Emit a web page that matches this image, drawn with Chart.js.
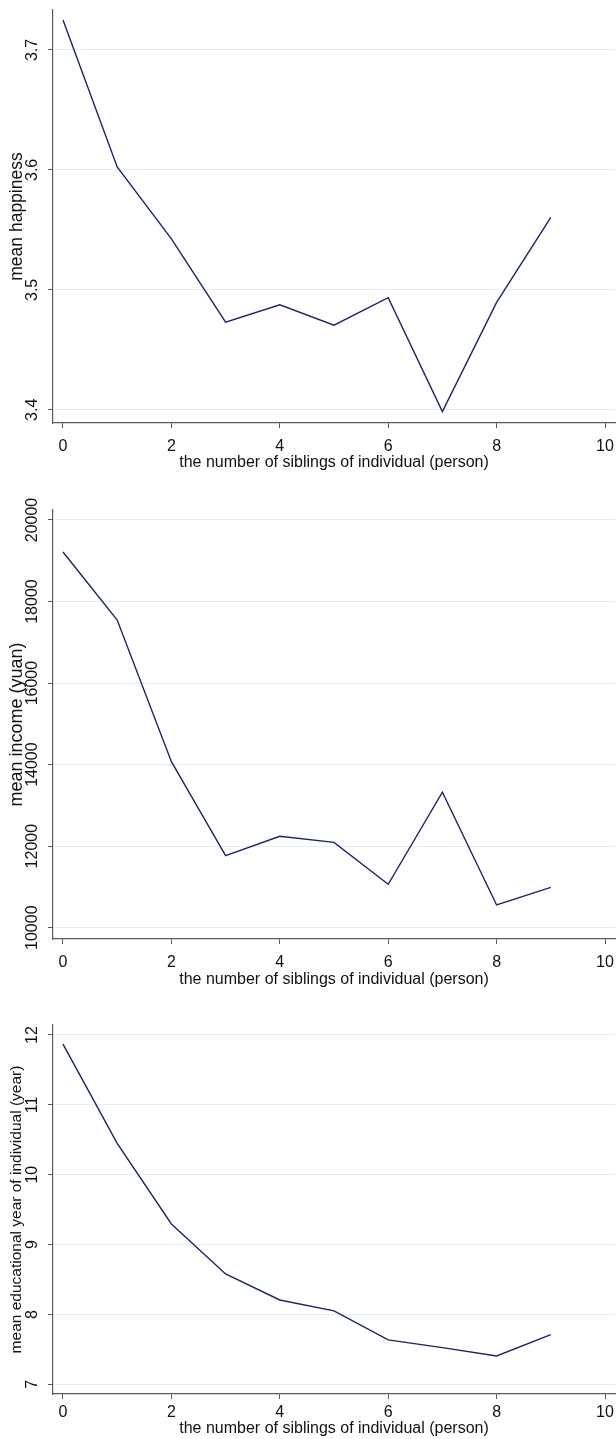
<!DOCTYPE html>
<html>
<head>
<meta charset="utf-8">
<script src="https://cdn.jsdelivr.net/npm/chart.js@4.4.1/dist/chart.umd.min.js"></script>
<style>
  body { margin: 0; background: #fff; }
  .panel { position: absolute; left: 0; width: 616px; }
</style>
</head>
<body>
<div class="panel" style="top:0px;height:480px"><canvas id="happinessChart"></canvas></div>
<div class="panel" style="top:480px;height:515px"><canvas id="incomeChart"></canvas></div>
<div class="panel" style="top:995px;height:444px"><canvas id="eduChart"></canvas></div>
<script>
// number of siblings (x)
const siblings = [0, 1, 2, 3, 4, 5, 6, 7, 8, 9];
const xTicks = [0, 2, 4, 6, 8, 10];

// mean happiness
const happiness = [3.725, 3.6025, 3.5425, 3.473, 3.4875, 3.4705, 3.4935, 3.3985, 3.4895, 3.5605];
const happinessTicks = [3.4, 3.5, 3.6, 3.7];

// mean income (yuan)
const income = [19215, 17547, 14072, 11766, 12241, 12094, 11064, 13323, 10557, 10990];
const incomeTicks = [10000, 12000, 14000, 16000, 18000, 20000];

// mean educational year
const eduYears = [11.87, 10.45, 9.295, 8.58, 8.207, 8.05, 7.635, 7.525, 7.405, 7.71];
const eduTicks = [7, 8, 9, 10, 11, 12];

const FONT = 'Liberation Sans, Arial, Helvetica, sans-serif';
const axisColor = '#5a5a5a';

// y tick labels in the picture are turned 90 degrees, draw them here
const rotatedYLabels = {
    id: 'rotatedYLabels',
    afterDraw(chart) {
        const ctx = chart.ctx;
        const scale = chart.scales.y;
        ctx.save();
        ctx.font = '16px ' + FONT;
        ctx.fillStyle = '#111';
        ctx.textAlign = 'center';
        ctx.textBaseline = 'middle';
        scale.ticks.forEach(function (t) {
            const y = scale.getPixelForValue(t.value);
            ctx.save();
            ctx.translate(chart.chartArea.left - 20, y);
            ctx.rotate(-Math.PI / 2);
            ctx.fillText(String(t.value), 0, 0);
            ctx.restore();
        });
        ctx.restore();
    }
};

function makePanel(id, values, yTicks, yMin, yMax, yTitle, yTitleSize, top, xHeight, tickPad, titlePad) {
    const ctx = document.getElementById(id).getContext('2d');
    return new Chart(ctx, {
        type: 'line',
        data: {
            datasets: [{
                data: siblings.map((s, i) => ({ x: s, y: values[i] })),
                borderColor: '#1b2466',
                borderWidth: 1.4,
                pointRadius: 0,
                tension: 0,
                fill: false
            }]
        },
        options: {
            responsive: true,
            maintainAspectRatio: false,
            animation: false,
            layout: { padding: { top: top, right: 1, left: 0, bottom: 0 } },
            plugins: { legend: { display: false }, tooltip: { enabled: false } },
            scales: {
                x: {
                    type: 'linear',
                    min: -0.1845,
                    max: 10.1845,
                    afterBuildTicks: (scale) => { scale.ticks = xTicks.map(v => ({ value: v })); },
                    afterFit: (scale) => {
                        scale.height = xHeight;
                        scale.paddingLeft = 0;
                        scale.paddingRight = 0;
                    },
                    grid: { drawOnChartArea: false, drawTicks: true, tickLength: 5, tickColor: axisColor },
                    border: { color: axisColor, width: 1.2 },
                    ticks: { color: '#111', font: { family: FONT, size: 16 }, padding: tickPad, maxRotation: 0 },
                    title: {
                        display: true,
                        text: 'the number of siblings of individual (person)',
                        color: '#111',
                        font: { family: FONT, size: 16 },
                        padding: { top: 0, bottom: titlePad }
                    }
                },
                y: {
                    type: 'linear',
                    min: yMin,
                    max: yMax,
                    afterBuildTicks: (scale) => { scale.ticks = yTicks.map(v => ({ value: v })); },
                    afterFit: (scale) => { scale.width = 53; },
                    grid: { color: '#e6eef0', lineWidth: 1, drawTicks: true, tickLength: 5, tickColor: axisColor },
                    border: { color: axisColor, width: 1.2 },
                    ticks: { display: false },
                    title: {
                        display: true,
                        text: yTitle,
                        color: '#111',
                        font: { family: FONT, size: yTitleSize },
                        padding: { top: 17 - yTitleSize * 0.6, bottom: 0 }
                    }
                }
            }
        },
        plugins: [rotatedYLabels]
    });
}

makePanel('happinessChart', happiness, happinessTicks, 3.389, 3.7333, 'mean happiness', 17.5, 10, 57, 9, 7.4);
makePanel('incomeChart', income, incomeTicks, 9723, 20245, 'mean income (yuan)', 18, 30, 56, 9, 5.6);
makePanel('eduChart', eduYears, eduTicks, 6.861, 12.143, 'mean educational year of individual (year)', 15.5, 30, 45, 4, 0.8);
</script>
</body>
</html>
